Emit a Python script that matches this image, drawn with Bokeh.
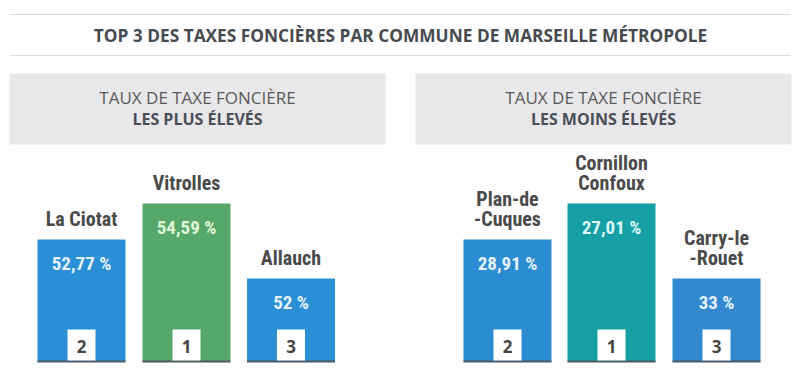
from bokeh.plotting import figure
from bokeh.models import Range1d, ColumnDataSource
from bokeh.core.properties import value
from bokeh.embed import file_html
from bokeh.resources import INLINE

# ---------------- data ----------------
title = "TOP 3 DES TAXES FONCIÈRES PAR COMMUNE DE MARSEILLE MÉTROPOLE"
panel_line1 = ["TAUX DE TAXE FONCIÈRE", "TAUX DE TAXE FONCIÈRE"]
panel_line2 = ["LES PLUS ÉLEVÉS", "LES MOINS ÉLEVÉS"]

high_communes = [["La Ciotat"], ["Vitrolles"], ["Allauch"]]
high_rates = [52.77, 54.59, 52.0]
high_ranks = [2, 1, 3]

low_communes = [["Plan-de", "-Cuques"], ["Cornillon", "Confoux"], ["Carry-le", "-Rouet"]]
low_rates = [28.91, 27.01, 33.0]
low_ranks = [2, 1, 3]

# ---------------- layout / style ----------------
W, H = 792, 372
BASE = 361                       # podium baseline (screen px)
PODIUM = {1: 158, 2: 122, 3: 83}  # podium step height by rank
BAR_W = 88
high_centers = [81, 186, 290.5]
low_centers = [507, 611, 716]
high_colors = ["#2b8fd6", "#56a86a", "#2b8fd6"]
high_txt = ["#e4f2ff", "#e0f6da", "#e4f2ff"]
low_colors = ["#2c8cd2", "#16a0a6", "#3389d0"]
low_txt = ["#e4f2ff", "#dcf8f6", "#e4f2ff"]

NAME_FONT = value("Roboto Condensed, DejaVu Sans Condensed")
SANS = value("Open Sans")


def fmt(v):
    s = ("%.2f" % v).rstrip("0").rstrip(".")
    return s.replace(".", ",") + " %"


p = figure(width=W, height=H, output_backend="svg", toolbar_location=None,
           x_range=Range1d(0, W), y_range=Range1d(H, 0),
           min_border=0, outline_line_color=None)
p.axis.visible = False
p.grid.visible = False
p.background_fill_color = "white"
p.border_fill_color = "white"

# title with rules
p.segment(x0=[10, 10], x1=[790, 790], y0=[14, 55], y1=[14, 55],
          line_color="#dcdcdc", line_width=1.2)
p.text(x=[400], y=[35], text=[title], text_align="center", text_baseline="middle",
       text_font=SANS, text_font_style="bold", text_font_size="17.3px", text_color="#474a4f")

# panel headers
hdr = ColumnDataSource(dict(l=[9, 415], r=[385, 791],
                            cx=[197, 603], t1=panel_line1, t2=panel_line2))
p.quad(left="l", right="r", top=73, bottom=144, source=hdr,
       fill_color="#e8e8ea", line_color=None)
p.text(x="cx", y=97, text="t1", source=hdr, text_align="center", text_baseline="middle",
       text_font=SANS, text_font_size="17px", text_color="#5a5a5a")
p.text(x="cx", y=118, text="t2", source=hdr, text_align="center", text_baseline="middle",
       text_font=SANS, text_font_style="bold", text_font_size="16px", text_color="#4a4f58")


def podium(centers, communes, rates, ranks, colors, txtcolors):
    tops = [BASE - PODIUM[r] for r in ranks]
    src = ColumnDataSource(dict(
        x=centers, top=tops, color=colors, tcol=txtcolors,
        lab=[fmt(v) for v in rates], rank=[str(r) for r in ranks],
        vy=[t + 24 for t in tops],
    ))
    p.vbar(x="x", width=BAR_W, top="top", bottom=BASE, fill_color="color",
           line_color=None, source=src)
    p.vbar(x="x", width=BAR_W, top=BASE - 1, bottom=BASE + 1, fill_color="#4f5963",
           line_color=None, source=src)
    p.text(x="x", y="vy", text="lab", text_color="tcol", source=src,
           text_align="center", text_baseline="middle", text_font=NAME_FONT,
           text_font_style="bold", text_font_size="19px")
    # rank boxes
    p.vbar(x="x", width=28, top=329, bottom=BASE - 1, fill_color="white",
           line_color=None, source=src)
    p.text(x="x", y=346, text="rank", source=src, text_color="#454545",
           text_align="center", text_baseline="middle", text_font=SANS,
           text_font_style="bold", text_font_size="17px")
    # names (multi-line, bottom line just above bar)
    xs, ys, ts = [], [], []
    for c, t, lines in zip(centers, tops, communes):
        n = len(lines)
        for i, ln in enumerate(lines):
            xs.append(c)
            ys.append(t - 21 - (n - 1 - i) * 20)
            ts.append(ln)
    p.text(x=xs, y=ys, text=ts, text_color="#4a4a4a", text_align="center",
           text_baseline="middle", text_font=NAME_FONT, text_font_style="bold",
           text_font_size="20px")


podium(high_centers, high_communes, high_rates, high_ranks, high_colors, high_txt)
podium(low_centers, low_communes, low_rates, low_ranks, low_colors, low_txt)

open("out.html", "w").write(file_html(p, INLINE))
